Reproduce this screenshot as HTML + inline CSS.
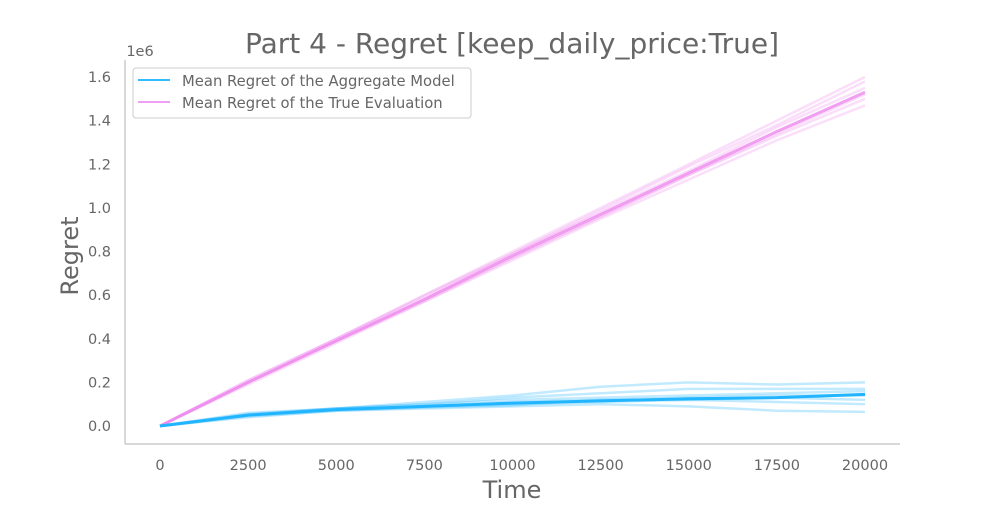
<!DOCTYPE html>
<html><head><meta charset="utf-8"><style>
body{margin:0;background:#fff;font-family:"Liberation Sans","DejaVu Sans",sans-serif}
svg text{fill:#666;font-family:"DejaVu Sans","Liberation Sans",sans-serif}
</style></head><body>
<svg id="chart" width="1000" height="500">
<text x="512" y="53" font-size="28" text-anchor="middle">Part 4 - Regret [keep_daily_price:True]</text>
<g id="axes"></g>
<g id="series"></g>
<g>
<rect x="133" y="68" width="338" height="50" rx="3" fill="#fff" stroke="#ccc"/>
<line x1="138" y1="80" x2="170" y2="80" stroke="#33bbff" stroke-width="2"/>
<text x="182" y="86" font-size="14.8">Mean Regret of the Aggregate Model</text>
<line x1="138" y1="102" x2="170" y2="102" stroke="#f0a0f0" stroke-width="2"/>
<text x="182" y="108" font-size="14.8">Mean Regret of the True Evaluation</text>
</g>
<text x="140" y="56" font-size="14.5" text-anchor="middle">1e6</text>
<text x="512" y="498" font-size="24" text-anchor="middle">Time</text>
<text x="78" y="256" font-size="24" text-anchor="middle" transform="rotate(-90 78 256)">Regret</text>
</svg>
<script>
const times=[0,2500,5000,7500,10000,12500,15000,17500,20000];
const xTicks=[0,2500,5000,7500,10000,12500,15000,17500,20000];
const yTicks=[0,0.2,0.4,0.6,0.8,1.0,1.2,1.4,1.6];
const blueMean=[0,0.05,0.075,0.09,0.105,0.115,0.125,0.13,0.145];
const blueRun1=[0,0.06,0.08,0.11,0.14,0.18,0.2,0.19,0.2];
const blueRun2=[0,0.05,0.08,0.1,0.13,0.15,0.17,0.17,0.17];
const blueRun3=[0,0.045,0.07,0.08,0.09,0.1,0.09,0.07,0.065];
const blueRun4=[0,0.05,0.075,0.09,0.1,0.11,0.12,0.11,0.1];
const blueRun5=[0,0.055,0.08,0.1,0.12,0.13,0.14,0.15,0.16];
const blueRun6=[0,0.04,0.07,0.085,0.095,0.12,0.12,0.13,0.12];
const blueRun7=[0,0.05,0.08,0.09,0.11,0.12,0.13,0.14,0.14];
const pinkMean=[0,0.2,0.39,0.58,0.78,0.97,1.16,1.35,1.53];
const pinkRun1=[0,0.21,0.4,0.6,0.8,1.0,1.2,1.4,1.6];
const pinkRun2=[0,0.2,0.39,0.57,0.76,0.95,1.13,1.31,1.47];
const pinkRun3=[0,0.2,0.4,0.59,0.79,0.98,1.17,1.37,1.55];
const pinkRun4=[0,0.19,0.38,0.57,0.77,0.96,1.15,1.33,1.5];
const pinkRun5=[0,0.21,0.4,0.6,0.79,0.99,1.19,1.38,1.58];
const pinkRun6=[0,0.2,0.39,0.58,0.77,0.96,1.15,1.34,1.52];
const X=v=>160+v/20000*705;
const Y=v=>426-v/1.6*349;
const NS='http://www.w3.org/2000/svg';
const axes=document.getElementById('axes'),ser=document.getElementById('series');
function mk(tag,attrs,parent){const e=document.createElementNS(NS,tag);for(const k in attrs)e.setAttribute(k,attrs[k]);parent.appendChild(e);return e;}
const ls=mk('line',{x1:125,y1:60,x2:125,y2:444,stroke:'#ccc','stroke-width':1.5},axes);


const bs=mk('line',{x1:125,y1:444,x2:900,y2:444,stroke:'#ccc','stroke-width':1.5},axes);


xTicks.forEach(t=>{const e=mk('text',{x:X(t),y:470,'font-size':14.5,'text-anchor':'middle'},axes);e.textContent=t;

});
yTicks.forEach(t=>{const e=mk('text',{x:111,y:Y(t)+5,'font-size':14.5,'text-anchor':'end'},axes);e.textContent=t.toFixed(1);

});
function line(arr,color,w,op,name){const p=mk('polyline',{points:arr.map((v,i)=>X(times[i])+','+Y(v)).join(' '),fill:'none',stroke:color,'stroke-width':w,'stroke-opacity':op,'stroke-linejoin':'round'},ser);

}
[pinkRun1,pinkRun2,pinkRun3,pinkRun4,pinkRun5,pinkRun6].forEach((r,i)=>line(r,'#f0a0f0',2.5,0.35,'true-run-'+(i+1)));
line(pinkMean,'#ee88ee',3,0.8,'true-mean-line');
[blueRun1,blueRun2,blueRun3,blueRun4,blueRun5,blueRun6,blueRun7].forEach((r,i)=>line(r,'#33bbff',2.5,0.3,'aggregate-run-'+(i+1)));
line(blueMean,'#22b5ff',3,1,'aggregate-mean-line');
</script>
</body></html>
